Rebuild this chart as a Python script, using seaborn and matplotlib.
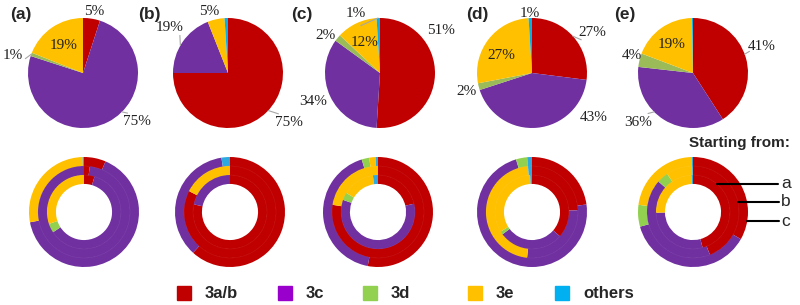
import numpy as np
import matplotlib.pyplot as plt
from matplotlib.patches import Circle, Rectangle
import seaborn as sns

sns.set_style("white")
plt.rcParams['font.family'] = ['Liberation Sans', 'DejaVu Sans']

categories = ['3a/b', '3c', '3d', '3e', 'others']
panels = ['(a)', '(b)', '(c)', '(d)', '(e)']

# top row: overall share (%) per category
pie_a = [5, 75, 1, 19, 0]
pie_b = [75, 19, 0, 5, 1]
pie_c = [51, 34, 2, 12, 1]
pie_d = [27, 43, 2, 27, 1]
pie_e = [41, 36, 4, 19, 0.3]

# bottom row: rings starting from a (inner), b (middle), c (outer)
ring_a = [[4.6, 61.2, 4.0, 30.2, 0], [2, 98, 0, 0, 0], [6.4, 65.6, 0, 27.6, 0.4]]
ring_b = [[78.3, 21.7, 0, 0, 0], [82.5, 0, 0, 17.5, 0], [61.7, 35.8, 0, 0, 2.5]]
ring_c = [[21.4, 58.9, 3.3, 14.2, 2.2], [77.5, 0, 0, 22.5, 0], [53, 42.2, 2.2, 1.9, 0.7]]
ring_d = [[36.4, 28.3, 1.4, 33.1, 0.8], [24.4, 27.3, 0, 46.9, 1.4], [22.8, 72.5, 3.3, 0, 1.4]]
ring_e = [[45.8, 28.9, 0, 24.7, 0.6], [44, 42.5, 4, 9.2, 0.3], [33.2, 37.5, 6.4, 22.5, 0.4]]

pies = [pie_a, pie_b, pie_c, pie_d, pie_e]
rings = [ring_a, ring_b, ring_c, ring_d, ring_e]

pie_colors = sns.color_palette(['#C00000', '#7030A0', '#9BBB59', '#FFC000', '#00B0F0'])
ring_colors = sns.color_palette(['#C00000', '#7030A0', '#92D050', '#FFC000', '#2EA9DF'])
legend_colors = sns.color_palette(['#C00000', '#9900CC', '#92D050', '#FFC000', '#00B0F0'])

# label placement: (category index, angle clockwise from top, distance, leader start angle)
label_pos = [
    [(0, 10, 1.13, None), (3, 325, 0.62, None), (2, 284, 1.32, 290), (1, 132, 1.33, 135)],
    [(1, 308, 1.35, 300), (3, 343, 1.16, None), (0, 129, 1.42, 133)],
    [(4, 338, 1.17, 358), (2, 305, 1.2, None), (3, 333, 0.63, None), (0, 55, 1.35, None), (1, 247, 1.32, None)],
    [(4, 358, 1.09, None), (0, 56, 1.32, 48), (3, 299, 0.64, None), (2, 254, 1.23, None), (1, 126, 1.39, None)],
    [(3, 323, 0.64, None), (0, 69, 1.34, 70), (2, 286, 1.16, None), (1, 228, 1.34, 225)],
]

W, H = 800, 305
R = 55
pie_cx = [83, 228, 380, 532, 693]
ring_cx = [84, 230, 378, 532, 693]
pie_cy, ring_cy = 73, 212

fig = plt.figure(figsize=(W / 100, H / 100), dpi=100)


def polar(angle, r):
    a = np.deg2rad(angle)
    return r * np.sin(a), r * np.cos(a)


def make_ax(cx, cy):
    ax = fig.add_axes([(cx - R) / W, (H - cy - R) / H, 2 * R / W, 2 * R / H])
    return ax


for i in range(5):
    # top pie
    ax = make_ax(pie_cx[i], pie_cy)
    ax.pie(pies[i], colors=pie_colors, startangle=90, counterclock=False,
           wedgeprops=dict(linewidth=0, edgecolor='none'))
    ax.set_xlim(-1, 1)
    ax.set_ylim(-1, 1)
    ax.axis('off')
    for idx, ang, dist, lead in label_pos[i]:
        x, y = polar(ang, dist)
        ax.text(x, y, f"{pies[i][idx]:g}%", ha='center', va='center',
                fontsize=11, family=['Liberation Serif'], color='#222222')
        if lead is not None:
            x0, y0 = polar(lead, 1.0)
            x1, y1 = polar(ang, dist - 0.24)
            ax.plot([x0, x1], [y0, y1], color='#A6A6A6', lw=0.8, clip_on=False)

    # bottom donut, three rings (outer drawn first, inner ones overlap slightly)
    ax = make_ax(ring_cx[i], ring_cy)
    radii = [1.0, 0.837, 0.673]
    for vals, rad in zip(rings[i][::-1], radii):
        w = 0.163 if rad < 0.7 else 0.175
        ax.pie(vals, colors=ring_colors, radius=rad, startangle=90, counterclock=False,
               wedgeprops=dict(width=w, linewidth=0, edgecolor='none'))
    # faint separators between rings
    for rad in [0.673, 0.837]:
        ax.add_patch(Circle((0, 0), rad, fill=False, ec=(1, 1, 1, 0.08), lw=0.4))
    ax.set_xlim(-1, 1)
    ax.set_ylim(-1, 1)
    ax.axis('off')

# overlay for annotations and legend, in pixel coordinates
ov = fig.add_axes([0, 0, 1, 1])
ov.set_xlim(0, W)
ov.set_ylim(H, 0)
ov.axis('off')

panel_xy = [(21, 14), (149, 14), (302, 14), (477, 15), (625, 15)]
for lab, (x, y) in zip(panels, panel_xy):
    ov.text(x, y, lab, ha='center', va='center', fontsize=12.5, fontweight='bold')

ov.text(739, 143, 'Starting from:', ha='center', va='center', fontsize=11, fontweight='bold')
for lab, (x0, x1, y) in zip(['a', 'b', 'c'], [(717, 778, 184), (738, 779, 202), (747, 779, 221)]):
    ov.plot([x0, x1], [y, y], color='black', lw=1.5)
    ov.text(786, y, lab, ha='center', va='center', fontsize=12.5)

leg_x = [184, 285, 370, 475, 562]
for name, col, x in zip(categories, legend_colors, leg_x):
    ov.add_patch(Rectangle((x - 7, 286), 14, 14, color=col))
    ov.text(x + 21, 293, name, ha='left', va='center', fontsize=12, fontweight='bold')

fig.savefig('out.png', dpi=100)
